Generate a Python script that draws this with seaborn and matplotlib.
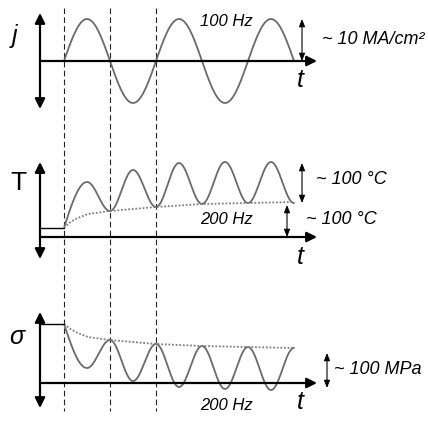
import numpy as np
import pandas as pd
import matplotlib
matplotlib.use("Agg")
import matplotlib.pyplot as plt
import seaborn as sns

# =========================================================
# DATA
#   times in ms (t = 0 at the first dashed line, 100 Hz -> 10 ms period)
#   levels = height above each panel's t-axis (sketch units)
# =========================================================

# current density j, 100 Hz (first point is a virtual trough before t=0)
j_times = [-2.5, 2.5, 7.5, 12.5, 17.5, 22.5, 27.5]
j_levels = [-42, 42, -42, 42, -42, 42, -42]

# temperature T, 200 Hz ripple riding on a slowly rising mean
T_times = [-2.5, 2.5, 5.0, 7.5, 10.0, 12.5, 15.0, 17.5, 20.0, 22.5, 25.0]
T_levels = [-37, 55, 26, 67, 30, 74, 33, 75, 34, 75, 34]
T_env_times = [0.0, 0.7, 1.5, 2.6, 5.0, 10.0, 15.0, 20.0, 25.0]
T_env_levels = [9, 15, 19, 23, 26, 30, 33, 34, 35]
T_start = 9

# stress sigma, 200 Hz, mean relaxing downwards
s_times = [-2.5, 2.5, 5.0, 7.5, 10.0, 12.5, 15.0, 17.5, 20.0, 22.5, 25.0]
s_levels = [103, 15, 43, 2, 39, -4, 37, -6, 36, -7, 35]
s_env_times = [0.0, 0.7, 1.5, 2.6, 5.0, 10.0, 15.0, 20.0, 25.0]
s_env_levels = [59, 54, 50, 46, 43, 39, 37, 36, 35]
s_start = 59

dash_times = [0, 5, 10]

# =========================================================
# LAYOUT
# =========================================================
W, H = 428, 421
PX_PER_MS = 9.2
T0_PX = 64


def px2t(px):
    return (px - T0_PX) / PX_PER_MS


AX_X = px2t(40)          # vertical arrows
AX_END = px2t(317)       # tip of horizontal arrows
T_END = 25.0

panels = {
    "j": dict(base=61, top=13, bottom=109),
    "T": dict(base=237, top=162, bottom=259),
    "s": dict(base=383, top=312, bottom=408),
}

WAVE = "#6a6a6a"
ENV = "#7e7e7e"


def wave(times, levels, t_min, t_max, n=60):
    # smooth half-cosine between consecutive extrema
    ts, ys = [], []
    for k in range(len(times) - 1):
        s = np.linspace(0, 1, n)
        t = times[k] + (times[k + 1] - times[k]) * s
        y = levels[k] + (levels[k + 1] - levels[k]) * (1 - np.cos(np.pi * s)) / 2
        ts.append(t)
        ys.append(y)
    t = np.concatenate(ts)
    y = np.concatenate(ys)
    keep = (t >= t_min) & (t <= t_max)
    return pd.DataFrame({"t": t[keep], "y": y[keep]})


sns.set_style("white")
plt.rcParams["font.family"] = ["Liberation Sans", "DejaVu Sans"]
plt.rcParams["text.color"] = "black"

fig = plt.figure(figsize=(W / 100, H / 100), dpi=100)
ax = fig.add_axes([0, 0, 1, 1])
ax.set_xlim(px2t(0), px2t(W))
ax.set_ylim(H, 0)
ax.axis("off")

# dashed guides
for td in dash_times:
    ax.plot([td, td], [8, 411], color="#222222", lw=0.8, dashes=(5, 3))

# axes arrows
axis_kw = dict(color="black", lw=1.6, shrinkA=0, shrinkB=0)
head = "-|>,head_length=0.6,head_width=0.3"
for name, p in panels.items():
    ax.annotate("", xy=(AX_X, p["top"]), xytext=(AX_X, p["base"]),
                arrowprops=dict(arrowstyle=head, **axis_kw))
    ax.annotate("", xy=(AX_X, p["bottom"]), xytext=(AX_X, p["base"]),
                arrowprops=dict(arrowstyle=head, **axis_kw))
    ax.annotate("", xy=(AX_END, p["base"]), xytext=(AX_X, p["base"]),
                arrowprops=dict(arrowstyle=head, **axis_kw))

# waveforms
for times, levels, key in [(j_times, j_levels, "j"),
                           (T_times, T_levels, "T"),
                           (s_times, s_levels, "s")]:
    df_w = wave(times, levels, 0, T_END)
    df_w["y"] = panels[key]["base"] - df_w["y"]
    sns.lineplot(data=df_w, x="t", y="y", ax=ax, color=WAVE, lw=1.3,
                 estimator=None, sort=False)

# envelopes (dotted)
ax.plot(T_env_times, [panels["T"]["base"] - v for v in T_env_levels],
        color=ENV, lw=1.3, ls=(0, (1, 1)))
ax.plot(s_env_times, [panels["s"]["base"] - v for v in s_env_levels],
        color=ENV, lw=1.3, ls=(0, (1, 1)))

# initial flat levels before t = 0
ax.plot([AX_X, 0], [panels["T"]["base"] - T_start] * 2, color="black", lw=1)
ax.plot([AX_X, 0], [panels["s"]["base"] - s_start] * 2, color="black", lw=1)

# amplitude markers
small_kw = dict(arrowstyle="<|-|>,head_length=0.45,head_width=0.18",
                color="black", lw=0.8, shrinkA=0, shrinkB=0)
ax.annotate("", xy=(px2t(302), 19), xytext=(px2t(302), 61), arrowprops=small_kw)
ax.annotate("", xy=(px2t(302), 163), xytext=(px2t(302), 203), arrowprops=small_kw)
ax.annotate("", xy=(px2t(287), 205), xytext=(px2t(287), 237), arrowprops=small_kw)
ax.annotate("", xy=(px2t(327), 353), xytext=(px2t(327), 388), arrowprops=small_kw)

# labels
lab = dict(ha="center", va="center", style="italic")
ax.text(px2t(15), 36, "j", fontsize=18, **lab)
ax.text(px2t(18), 183, "T", fontsize=19, ha="center", va="center")
ax.text(px2t(17), 337, "σ", fontsize=18, **lab)
for y in (80, 257, 402):
    ax.text(px2t(300), y, "t", fontsize=18, **lab)

ax.text(px2t(226), 22, "100 Hz", fontsize=12, **lab)
ax.text(px2t(226), 220, "200 Hz", fontsize=12, **lab)
ax.text(px2t(226), 405, "200 Hz", fontsize=12, **lab)

side = dict(ha="left", va="center", style="italic", fontsize=13)
ax.text(px2t(322), 40, "~ 10 MA/cm²", **side)
ax.text(px2t(316), 180, "~ 100 °C", **side)
ax.text(px2t(306), 220, "~ 100 °C", **side)
ax.text(px2t(334), 370, "~ 100 MPa", **side)

plt.savefig("out.png", dpi=100)
